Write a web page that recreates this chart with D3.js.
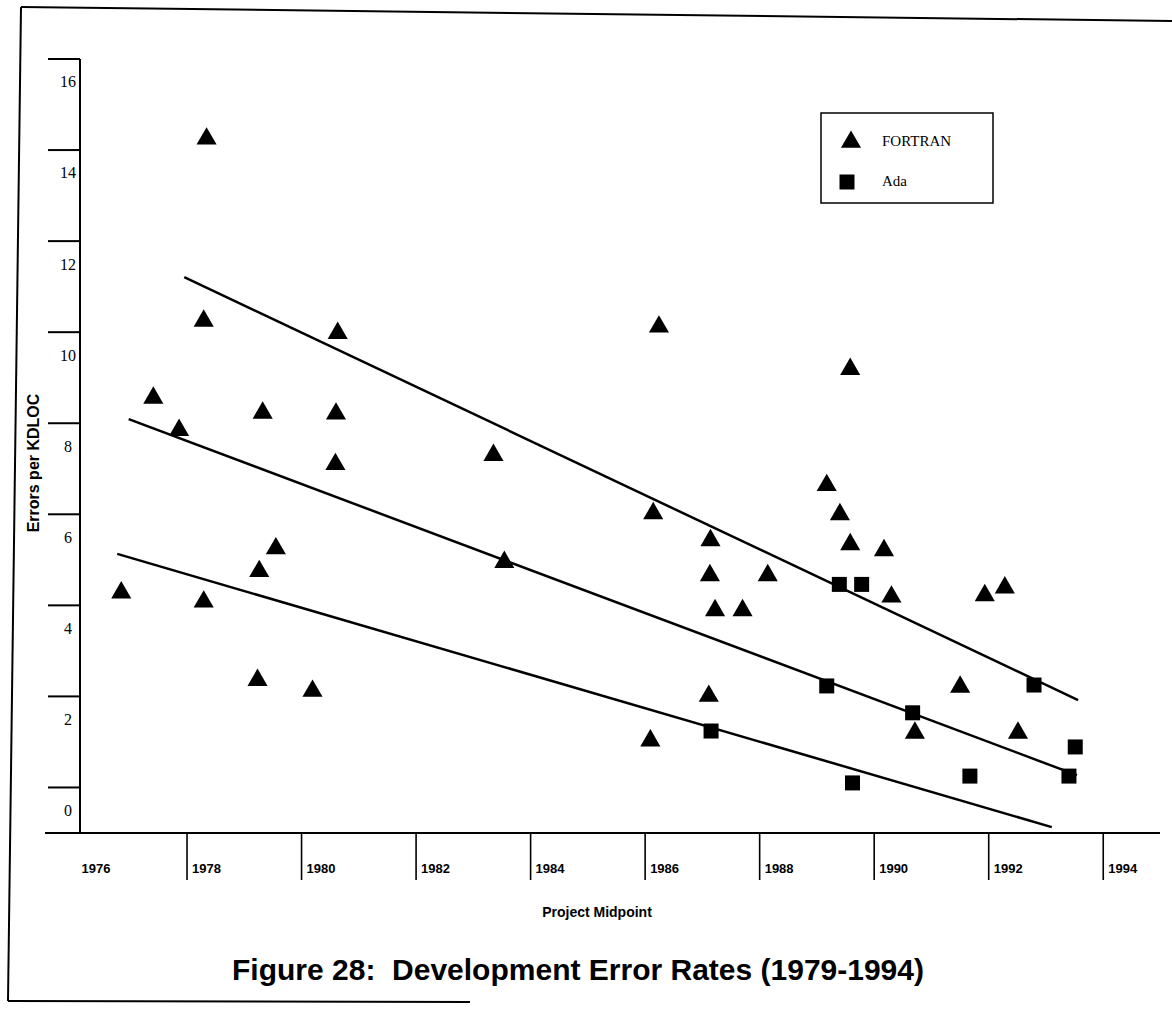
<!DOCTYPE html>
<html>
<head>
<meta charset="utf-8">
<script src="https://cdn.jsdelivr.net/npm/d3@7"></script>
<style>
	body { margin: 0; background: #fff; }
	svg { display: block; }
	.serif { font-family: 'Liberation Serif', 'Times New Roman', serif; }
	.sans { font-family: 'Liberation Sans', Arial, sans-serif; font-weight: bold; }
</style>
</head>
<body>
<svg id="chart-svg" width="1172" height="1014"></svg>
<script>
// values (year of project midpoint, errors per KDLOC)
const FORTRAN_YEARS = [1976.86, 1977.42, 1977.87, 1978.35, 1978.30, 1978.30, 1979.27, 1979.33, 1979.56, 1979.24,
	1980.20, 1980.64, 1980.61, 1980.60, 1983.36, 1983.55, 1986.25, 1986.15, 1986.10, 1987.15,
	1987.14, 1987.23, 1987.12, 1987.71, 1988.15, 1989.18, 1989.41, 1989.59, 1989.59, 1990.18,
	1990.31, 1990.72, 1991.51, 1991.94, 1992.29, 1992.52];
const FORTRAN_RATES = [4.80, 9.08, 8.37, 14.77, 10.77, 4.60, 5.27, 8.75, 5.77, 2.88,
	2.64, 10.50, 8.73, 7.62, 7.82, 5.47, 10.64, 6.54, 1.55, 5.95,
	5.18, 4.41, 2.53, 4.41, 5.18, 7.16, 6.52, 9.71, 5.86, 5.73,
	4.71, 1.72, 2.73, 4.74, 4.91, 1.72];
const ADA_YEARS = [1987.16, 1989.40, 1989.79, 1989.18, 1989.63, 1990.68, 1991.68, 1992.80, 1993.41, 1993.52];
const ADA_RATES = [1.74, 4.96, 4.96, 2.73, 0.60, 2.14, 0.75, 2.75, 0.75, 1.39];

// trend lines: [startYear, startRate, endYear, endRate]
const TREND_LINES = [
	[1977.96, 11.71, 1993.57, 2.42],
	[1976.99, 8.59, 1993.55, 0.77],
	[1976.79, 5.63, 1993.11, -0.37]
];

const X_TICKS = [1976, 1978, 1980, 1982, 1984, 1986, 1988, 1990, 1992, 1994];
const Y_TICKS = [0, 2, 4, 6, 8, 10, 12, 14, 16];
const SERIES_NAMES = ['FORTRAN', 'Ada'];

const svg = d3.select('#chart-svg');
svg.append('rect').attr('width', 1172).attr('height', 1014).attr('fill', '#fff');

const xScale = d3.scaleLinear().domain([1976, 1995]).range([72, 1160]);
const yScale = d3.scaleLinear().domain([-0.5, 16.5]).range([833, 59]);
const AXIS_X = 80;

// page frame (scan is slightly skewed)
const frame = svg.append('g').attr('stroke', '#000').attr('stroke-width', 2).attr('fill', 'none');
frame.append('path').attr('d', 'M21,7 L1172,21');
frame.append('path').attr('d', 'M21,7 L8,1001');
frame.append('path').attr('d', 'M8,1001 L470,1002');

// y axis
const yAxisG = svg.append('g').attr('transform', 'translate(' + AXIS_X + ',0)');
yAxisG.call(d3.axisLeft(yScale).tickValues(Y_TICKS).tickSize(0).tickFormat(d3.format('d')));
yAxisG.select('.domain').remove();
yAxisG.selectAll('.tick text')
	.attr('class', 'serif')
	.attr('x', -12)
	.attr('text-anchor', 'middle')
	.attr('fill', '#000')
	.style('font-size', '16px');
yAxisG.append('line')
	.attr('x1', 0).attr('x2', 0)
	.attr('y1', yScale(16.5)).attr('y2', yScale(-0.5))
	.attr('stroke', '#000').attr('stroke-width', 2);
yAxisG.selectAll('.band-tick')
	.data(Y_TICKS)
	.join('line')
	.attr('class', 'band-tick')
	.attr('x1', -32).attr('x2', 0)
	.attr('y1', (d) => yScale(d + 0.5)).attr('y2', (d) => yScale(d + 0.5))
	.attr('stroke', '#000').attr('stroke-width', 2);

svg.append('text')
	.attr('class', 'sans')
	.attr('transform', 'translate(39,463) rotate(-90)')
	.attr('text-anchor', 'middle')
	.style('font-size', '16px')
	.text('Errors per KDLOC');

// x axis
const xAxisG = svg.append('g').attr('transform', 'translate(0,' + yScale(-0.5) + ')');
xAxisG.call(d3.axisBottom(xScale).tickValues(X_TICKS).tickSize(47).tickFormat(d3.format('d')));
xAxisG.select('.domain').remove();
xAxisG.selectAll('.tick line')
	.attr('stroke', '#000').attr('stroke-width', 1.6)
	.attr('opacity', (d) => (d === 1976 ? 0 : 1));
xAxisG.selectAll('.tick text')
	.attr('class', 'sans')
	.attr('x', (d) => (d === 1976 ? 9 : 5))
	.attr('y', 40).attr('dy', 0)
	.attr('text-anchor', 'start')
	.attr('fill', '#000')
	.style('font-size', '13px');
xAxisG.append('line')
	.attr('x1', 45).attr('x2', 1160)
	.attr('y1', 0).attr('y2', 0)
	.attr('stroke', '#000').attr('stroke-width', 2);

svg.append('text')
	.attr('class', 'sans')
	.attr('x', 597).attr('y', 917)
	.attr('text-anchor', 'middle')
	.style('font-size', '14px')
	.text('Project Midpoint');

// trend lines
svg.append('g')
	.selectAll('line')
	.data(TREND_LINES)
	.join('line')
	.attr('x1', (d) => xScale(d[0])).attr('y1', (d) => yScale(d[1]))
	.attr('x2', (d) => xScale(d[2])).attr('y2', (d) => yScale(d[3]))
	.attr('stroke', '#000').attr('stroke-width', 2.5);

// points
const triangle = d3.symbol().type(d3.symbolTriangle).size(175);
const square = d3.symbol().type(d3.symbolSquare).size(225);
const fortranData = FORTRAN_YEARS.map((y, i) => ({ year: y, rate: FORTRAN_RATES[i] }));
const adaData = ADA_YEARS.map((y, i) => ({ year: y, rate: ADA_RATES[i] }));

svg.append('g')
	.selectAll('path')
	.data(fortranData)
	.join('path')
	.attr('d', triangle)
	.attr('transform', (d) => 'translate(' + xScale(d.year) + ',' + (yScale(d.rate) + 1) + ')')
	.attr('fill', '#000');
svg.append('g')
	.selectAll('path')
	.data(adaData)
	.join('path')
	.attr('d', square)
	.attr('transform', (d) => 'translate(' + xScale(d.year) + ',' + yScale(d.rate) + ')')
	.attr('fill', '#000');

// legend
const legendG = svg.append('g').attr('transform', 'translate(821,113)');
legendG.append('rect')
	.attr('width', 172).attr('height', 90)
	.attr('fill', '#fff').attr('stroke', '#000').attr('stroke-width', 1.5);
legendG.append('path').attr('d', triangle).attr('transform', 'translate(30,29)').attr('fill', '#000');
legendG.append('path').attr('d', square).attr('transform', 'translate(26,69)').attr('fill', '#000');
legendG.selectAll('.legend-text')
	.data(SERIES_NAMES)
	.join('text')
	.attr('class', 'serif legend-text')
	.attr('x', 61)
	.attr('y', (d, i) => 33 + i * 40)
	.style('font-size', '15px')
	.text((d) => d);

// caption
svg.append('text')
	.attr('class', 'sans')
	.attr('x', 578).attr('y', 980)
	.attr('text-anchor', 'middle')
	.style('font-size', '30px')
	.style('white-space', 'pre')
	.text('Figure 28:  Development Error Rates (1979-1994)');
</script>
</body>
</html>
